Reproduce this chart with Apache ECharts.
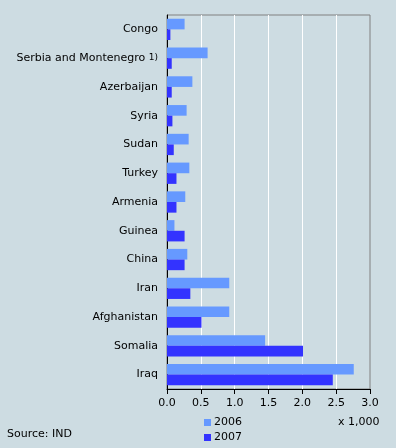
<!DOCTYPE html>
<html><head><meta charset="utf-8">
<script src="https://cdn.jsdelivr.net/npm/echarts@6/dist/echarts.min.js"></script>
<style>html,body{margin:0;padding:0;background:#cddce2;}#c{width:396px;height:448px;}</style>
</head><body><div id="c"></div>
<script>
var categories = ["Congo","Serbia and Montenegro 1)","Azerbaijan","Syria","Sudan","Turkey","Armenia","Guinea","China","Iran","Afghanistan","Somalia","Iraq"];
var values2006 = [0.26,0.60,0.375,0.29,0.32,0.33,0.27,0.11,0.30,0.92,0.92,1.45,2.76];
var values2007 = [0.05,0.07,0.07,0.08,0.10,0.14,0.14,0.26,0.26,0.345,0.51,2.01,2.45];
var xTicks = [0,0.5,1.0,1.5,2.0,2.5,3.0];

var font = 'DejaVu Sans';
var fs = 11;
var chart = echarts.init(document.getElementById('c'), null, {renderer:'canvas'});
chart.setOption({
  backgroundColor:'#cddce2',
  animation:false,
  textStyle:{fontFamily:font},
  grid:{left:167,right:26,top:15,bottom:59,show:true,borderColor:'#808080',borderWidth:1,backgroundColor:'transparent'},
  xAxis:{type:'value',min:xTicks[0],max:xTicks[xTicks.length-1],interval:0.5,
    axisLine:{show:true,lineStyle:{color:'#000',width:1}},
    axisTick:{show:true,length:5,lineStyle:{color:'#000'}},
    axisLabel:{color:'#000',fontSize:fs,fontFamily:font,margin:9,formatter:function(v){return v.toFixed(1);}},
    splitLine:{show:true,showMinLine:false,showMaxLine:false,lineStyle:{color:'#ffffff',width:1}}
  },
  yAxis:{type:'category',data:categories,inverse:true,
    axisLine:{show:true,lineStyle:{color:'#000',width:1}},
    axisTick:{show:false},
    axisLabel:{color:'#000',fontSize:fs,fontFamily:font,margin:9,
      formatter:function(v){ if(v.indexOf(' 1)')>0){return v.replace(' 1)','')+' {s|1)}';} return v;},
      rich:{s:{fontSize:9,fontFamily:font,color:'#000'}}}
  },
  legend:{orient:'vertical',left:204,top:416,padding:0,itemWidth:7,itemHeight:7,itemGap:2,
    textStyle:{color:'#000',fontSize:fs,fontFamily:font,padding:[0,0,0,-2],lineHeight:13},
    icon:'rect',data:['2006','2007']},
  graphic:[
    {type:'text',left:338,top:417,style:{text:'x 1,000',fill:'#000',font:fs+'px '+font}},
    {type:'text',left:7,top:429,style:{text:'Source: IND',fill:'#000',font:fs+'px '+font}}
  ],
  series:[
    {name:'2006',type:'bar',data:values2006,itemStyle:{color:'#6699ff'},barGap:'0%',barCategoryGap:'26%'},
    {name:'2007',type:'bar',data:values2007,itemStyle:{color:'#3333ff'},barGap:'0%',barCategoryGap:'26%'}
  ]
});
</script></body></html>
